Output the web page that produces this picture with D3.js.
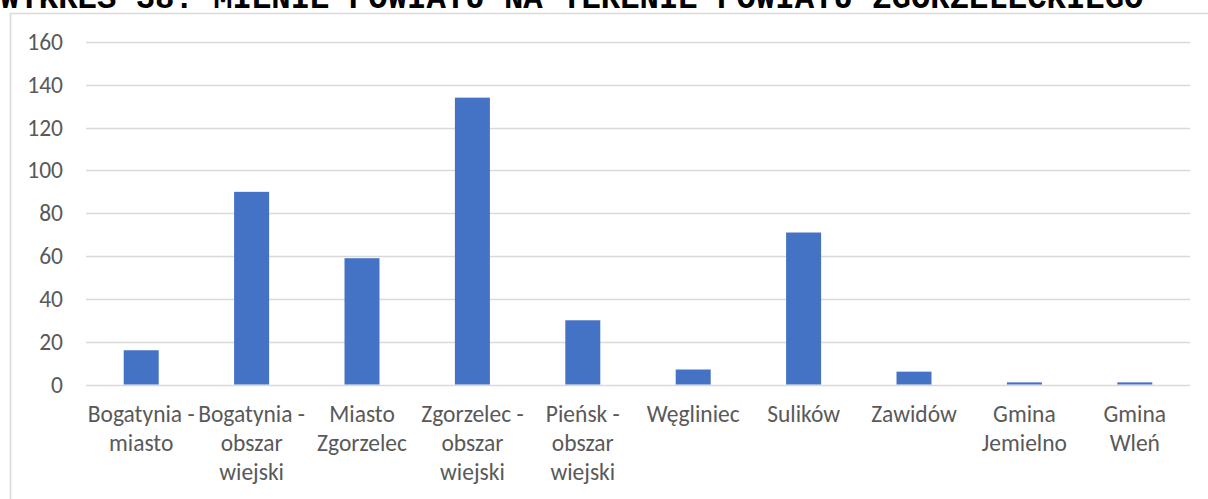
<!DOCTYPE html>
<html>
<head>
<meta charset="utf-8">
<script src="https://cdn.jsdelivr.net/npm/d3@7"></script>
<style>
  html, body { margin: 0; padding: 0; background: #fff; overflow: hidden; }
</style>
</head>
<body>
<svg id="chart" width="1208" height="499"></svg>
<script>
const title = "WYKRES 38. MIENIE POWIATU NA TERENIE POWIATU ZGORZELECKIEGO";
const categories = [
  "Bogatynia -\nmiasto",
  "Bogatynia -\nobszar\nwiejski",
  "Miasto\nZgorzelec",
  "Zgorzelec -\nobszar\nwiejski",
  "Pieńsk -\nobszar\nwiejski",
  "Węgliniec",
  "Sulików",
  "Zawidów",
  "Gmina\nJemielno",
  "Gmina\nWleń"
];
const values = [16, 90, 59, 134, 30, 7, 71, 6, 1, 1];
const yTicks = [0, 20, 40, 60, 80, 100, 120, 140, 160];

const svg = d3.select("#chart");
const labelFont = "Carlito, 'Open Sans', sans-serif";

// chart frame
svg.append("rect")
  .attr("x", 10.5).attr("y", 13.5)
  .attr("width", 1400).attr("height", 700)
  .attr("fill", "#fff").attr("stroke", "#d9d9d9").attr("stroke-width", 1.5);

// title (clipped at top, as in the reference)
svg.append("text")
  .attr("x", 0).attr("y", 8)
  .attr("font-family", "'Liberation Mono', monospace")
  .attr("font-weight", "bold")
  .attr("font-size", 32.3)
  .attr("fill", "#000")
  .text(title);

const x = d3.scaleBand().domain(d3.range(categories.length)).range([86, 1190]).paddingInner(0.683).paddingOuter(0.3415);
const y = d3.scaleLinear().domain([0, 160]).range([384.5, 42]);

// gridlines
svg.append("g").selectAll("line").data(yTicks).join("line")
  .attr("x1", 86).attr("x2", 1190)
  .attr("y1", d => Math.round(y(d)) + 0.5).attr("y2", d => Math.round(y(d)) + 0.5)
  .attr("stroke", "#d9d9d9").attr("stroke-width", 1.5);

// y axis labels
const yAxis = d3.axisLeft(y).tickValues(yTicks).tickSize(0).tickPadding(0);
const yg = svg.append("g").attr("transform", "translate(63,0)").call(yAxis);
yg.select(".domain").remove();
yg.selectAll("text")
  .attr("font-family", labelFont).attr("font-size", 23.5).attr("fill", "#595959");

// bars
svg.append("g").selectAll("rect").data(values).join("rect")
  .attr("x", (d, i) => x(i))
  .attr("width", x.bandwidth())
  .attr("y", d => y(d))
  .attr("height", d => y(0) - y(d))
  .attr("fill", "#4472c4");

// x axis labels
const xAxis = d3.axisBottom(x).tickSize(0).tickFormat("");
const xg = svg.append("g").attr("transform", `translate(0,${y(0)})`).call(xAxis);
xg.select(".domain").remove();
xg.selectAll(".tick").each(function(d, i) {
  const lines = categories[i].split("\n");
  const t = d3.select(this).append("text")
    .attr("text-anchor", "middle")
    .attr("font-family", labelFont).attr("font-size", 23.5).attr("fill", "#595959");
  lines.forEach((ln, k) => {
    t.append("tspan").attr("x", 0).attr("y", 37 + k * 29).text(ln);
  });
});
</script>
</body>
</html>
